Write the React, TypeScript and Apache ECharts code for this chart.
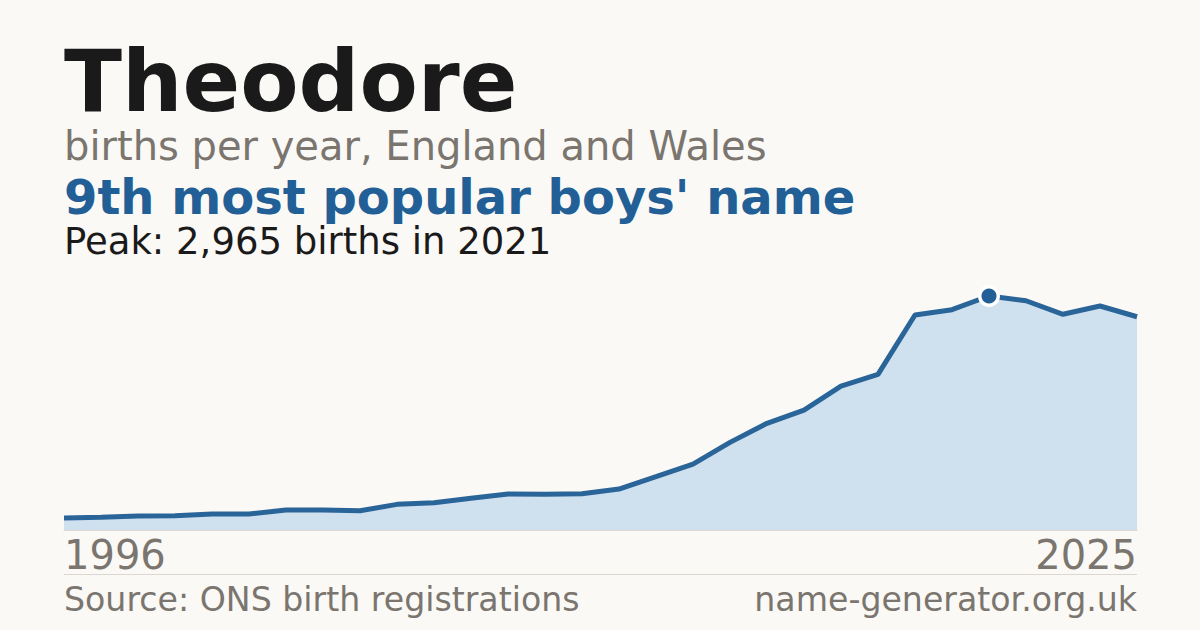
import React, { useEffect, useRef } from "react";
import * as echarts from "echarts";

const years = [
  "1996", "1997", "1998", "1999", "2000", "2001", "2002", "2003", "2004", "2005",
  "2006", "2007", "2008", "2009", "2010", "2011", "2012", "2013", "2014", "2015",
  "2016", "2017", "2018", "2019", "2020", "2021", "2022", "2023", "2024", "2025",
];
const births = [
  152, 160, 177, 181, 203, 203, 253, 253, 245, 325,
  346, 401, 456, 452, 460, 519, 675, 834, 1110, 1352,
  1520, 1824, 1972, 2724, 2792, 2965, 2905, 2733, 2838, 2702,
];
const peakYear = "2021";
const peakValue = 2965;

const titleText = "Theodore";
const subtitleText = "births per year, England and Wales";
const rankText = "9th most popular boys' name";
const peakText = "Peak: 2,965 births in 2021";
const sourceText = "Source: ONS birth registrations";
const siteText = "name-generator.org.uk";

const FONT = "'DejaVu Sans', sans-serif";

export default function App() {
  const ref = useRef<HTMLDivElement>(null);
  useEffect(() => {
    document.body.style.margin = "0";
    const chart = echarts.init(ref.current!, null, { renderer: "svg" });
    const peakIdx = years.indexOf(peakYear);
    const data = births.map((v, i) =>
      i === peakIdx
        ? {
            value: v,
            symbol: "circle",
            symbolSize: 18.5,
            itemStyle: { color: "#215f96", borderColor: "#ffffff", borderWidth: 3.5 },
          }
        : { value: v }
    );
    chart.setOption({
      animation: false,
      backgroundColor: "#faf9f5",
      grid: { left: 64, right: 63, top: 296, bottom: 100 },
      xAxis: {
        type: "category",
        data: years,
        boundaryGap: false,
        axisLine: { show: true, lineStyle: { color: "#dcd8d0", width: 1 } },
        axisTick: { show: false },
        axisLabel: {
          interval: (i: number) => i === 0 || i === years.length - 1,
          color: "#7a756e",
          fontFamily: FONT,
          fontSize: 40,
          margin: 5,
          alignMinLabel: "left",
          alignMaxLabel: "right",
        },
        splitLine: { show: false },
      },
      yAxis: {
        type: "value",
        min: 0,
        max: peakValue,
        show: false,
        splitLine: { show: false },
      },
      series: [
        {
          type: "line",
          data,
          symbol: "none",
          showSymbol: true,
          lineStyle: { color: "#2a6599", width: 5 },
          areaStyle: { color: "#cfe0ef", opacity: 1 },
          itemStyle: { color: "#2a6599" },
          z: 3,
        },
      ],
      graphic: [
        {
          type: "text",
          left: 64,
          top: 39,
          style: { text: titleText, font: `bold 85px ${FONT}`, fill: "#1a1a1a" },
        },
        {
          type: "text",
          left: 64,
          top: 126,
          style: { text: subtitleText, font: `40px ${FONT}`, fill: "#7a756e" },
        },
        {
          type: "text",
          left: 64,
          top: 173,
          style: { text: rankText, font: `bold 48px ${FONT}`, fill: "#215f96" },
        },
        {
          type: "text",
          left: 64,
          top: 223,
          style: { text: peakText, font: `37px ${FONT}`, fill: "#1a1a1a" },
        },
        {
          type: "line",
          shape: { x1: 64, y1: 574.5, x2: 1137, y2: 574.5 },
          style: { stroke: "#dcd8d0", lineWidth: 1 },
        },
        {
          type: "text",
          left: 64,
          top: 583,
          style: { text: sourceText, font: `33.2px ${FONT}`, fill: "#7a756e" },
        },
        {
          type: "text",
          right: 63,
          top: 583,
          style: { text: siteText, font: `33.2px ${FONT}`, fill: "#7a756e" },
        },
      ],
    });
    return () => chart.dispose();
  }, []);
  return <div ref={ref} style={{ width: 1200, height: 630 }} />;
}
